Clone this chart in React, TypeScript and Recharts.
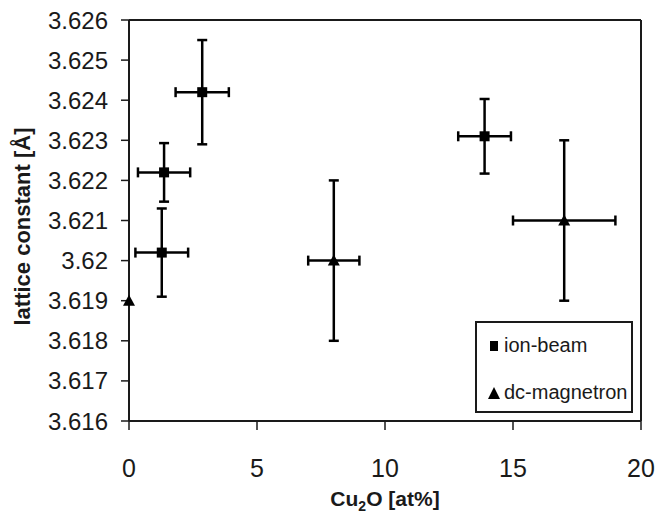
import React from "react"
import { ScatterChart, Scatter, XAxis, YAxis, ErrorBar, Legend, ReferenceLine } from "recharts"

const FONT = "'Liberation Sans', Arial, sans-serif"
const INK = "#1a1a1a"

const xTicks = [0, 5, 10, 15, 20]
const yTicks = [3.616, 3.617, 3.618, 3.619, 3.62, 3.621, 3.622, 3.623, 3.624, 3.625, 3.626]

// ion-beam series (squares)
const ionX = [1.28, 1.37, 2.86, 13.89]
const ionY = [3.6202, 3.6222, 3.6242, 3.6231]
const ionXErr = [1.03, 1.02, 1.04, 1.03]
const ionYErr = [0.0011, 0.00073, 0.0013, 0.00093]

// dc-magnetron series (triangles)
const magX = [0, 8, 17]
const magY = [3.619, 3.62, 3.621]
const magXErr = [0, 1, 2]
const magYErr = [0, 0.002, 0.002]

const seriesNames = ["ion-beam", "dc-magnetron"]

const ionData = ionX.map((x, i) => ({ x, y: ionY[i], ex: ionXErr[i], ey: ionYErr[i] }))
const magData = magX.map((x, i) => ({ x, y: magY[i], ex: magXErr[i], ey: magYErr[i] }))

const fmtY = (v: number) => String(Number(v.toFixed(3)))

const SquareDot = (props: any) => {
  const { cx, cy } = props
  return <rect x={cx - 5} y={cy - 5} width={10} height={10} fill="#000" />
}

const TriangleDot = (props: any) => {
  const { cx, cy } = props
  return <polygon points={`${cx},${cy - 6} ${cx + 6},${cy + 5} ${cx - 6},${cy + 5}`} fill="#000" />
}

const XLabel = (props: any) => {
  const vb = props.viewBox
  const cx = vb.x + vb.width / 2
  return (
    <text x={cx} y={vb.y + 85} textAnchor="middle" fontFamily={FONT} fontWeight="bold" fontSize={21} fill={INK}>
      Cu<tspan fontSize={14} dy={5}>2</tspan>
      <tspan dy={-5}>O [at%]</tspan>
    </text>
  )
}

const YLabel = (props: any) => {
  const vb = props.viewBox
  const cx = 22
  const cy = vb.y + vb.height / 2 + 6
  return (
    <text
      x={cx}
      y={cy}
      textAnchor="middle"
      dominantBaseline="central"
      transform={`rotate(-90, ${cx}, ${cy})`}
      fontFamily={FONT}
      fontWeight="bold"
      fontSize={22}
      fill={INK}
    >
      lattice constant [Å]
    </text>
  )
}

const LegendBox = () => (
  <div
    style={{
      width: 158,
      height: 92,
      border: `2px solid ${INK}`,
      background: "#fff",
      fontFamily: FONT,
      fontSize: 20,
      color: INK,
      boxSizing: "border-box",
      position: "relative",
    }}
  >
    {seriesNames.map((name, i) => (
      <div
        key={name}
        style={{ position: "absolute", left: 11, top: 11 + i * 47, display: "flex", alignItems: "center", whiteSpace: "nowrap" }}
      >
        <svg width={12} height={12} style={{ marginRight: 4 }}>
          {i === 0 ? <rect x={2} y={1} width={8} height={10} fill="#000" /> : <polygon points="6,0 12,12 0,12" fill="#000" />}
        </svg>
        <span>{name}</span>
      </div>
    ))}
  </div>
)

export default function App() {
  return (
    <div style={{ position: "absolute", left: 0, top: 0, background: "#fff" }}>
      <ScatterChart width={661} height={521} margin={{ top: 20, right: 20, left: 0, bottom: 0 }}>
        <XAxis
          type="number"
          dataKey="x"
          domain={[0, 20]}
          ticks={xTicks}
          height={100}
          axisLine={{ stroke: INK, strokeWidth: 2 }}
          tickLine={{ stroke: INK, strokeWidth: 1.5 }}
          tickSize={9}
          tickMargin={29}
          tick={{ fontFamily: FONT, fontSize: 25, fill: INK }}
          label={XLabel}
        />
        <YAxis
          type="number"
          dataKey="y"
          domain={[3.616, 3.626]}
          ticks={yTicks}
          width={129}
          tickFormatter={fmtY}
          axisLine={{ stroke: INK, strokeWidth: 2 }}
          tickLine={{ stroke: INK, strokeWidth: 1.5 }}
          tickSize={8}
          tickMargin={13}
          tick={{ fontFamily: FONT, fontSize: 24, fill: INK }}
          label={YLabel}
        />
        <ReferenceLine y={3.626} stroke={INK} strokeWidth={2} />
        <ReferenceLine x={20} stroke={INK} strokeWidth={2} />
        <Legend
          layout="vertical"
          verticalAlign="middle"
          align="center"
          content={LegendBox}
          wrapperStyle={{ left: 475, top: 321, width: 158, height: 92 }}
        />
        <Scatter name={seriesNames[0]} data={ionData} shape={SquareDot} isAnimationActive={false}>
          <ErrorBar dataKey="ex" direction="x" width={5} stroke="#000" strokeWidth={2.5} />
          <ErrorBar dataKey="ey" direction="y" width={5} stroke="#000" strokeWidth={2.5} />
        </Scatter>
        <Scatter name={seriesNames[1]} data={magData} shape={TriangleDot} isAnimationActive={false}>
          <ErrorBar dataKey="ex" direction="x" width={5} stroke="#000" strokeWidth={2.5} />
          <ErrorBar dataKey="ey" direction="y" width={5} stroke="#000" strokeWidth={2.5} />
        </Scatter>
      </ScatterChart>
    </div>
  )
}
